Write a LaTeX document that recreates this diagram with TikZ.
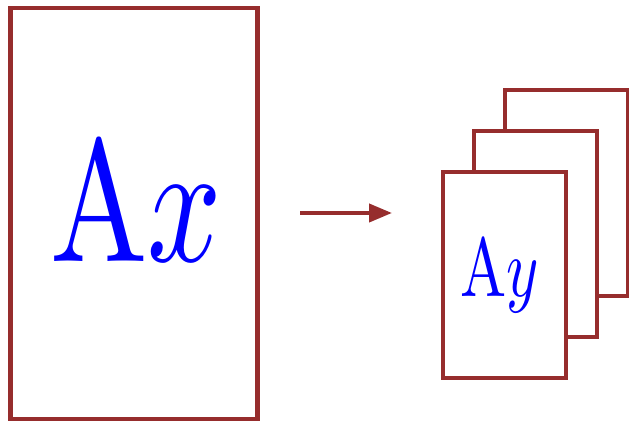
\documentclass[tikz,border=0pt]{standalone}
\usetikzlibrary{arrows.meta}
\definecolor{framered}{RGB}{150,45,45}
\begin{document}
\begin{tikzpicture}[
  frame/.style={draw=framered,line width=2.3pt,fill=white},
  bigtxt/.style={text=blue,inner sep=0pt,anchor=base,xscale=7.4,yscale=9.9},
  smalltxt/.style={text=blue,inner sep=0pt,anchor=base,xscale=3.5,yscale=4.75}]
\useasboundingbox (0,0) rectangle (12.58,8.46);

% left page
\draw[frame] (0.21,0.08) rectangle (5.15,8.30);
\node[bigtxt] (ax) at (2.72,3.22) {$\mathrm{A}x$};

% arrow
\coordinate (from) at (6.00,4.20);
\coordinate (to) at (7.84,4.20);
\draw[framered,line width=2.3pt,-{Triangle[length=0.46cm,width=0.36cm]}] (from) -- (to);

% stack of pages, back to front
\draw[frame] (10.10,2.54) rectangle (12.56,6.66);
\draw[frame] (9.48,1.72) rectangle (11.94,5.84);
\draw[frame] (8.86,0.90) rectangle (11.32,5.02);
\node[smalltxt] (ay) at (9.99,2.52) {$\mathrm{A}y$};
\end{tikzpicture}
\end{document}
